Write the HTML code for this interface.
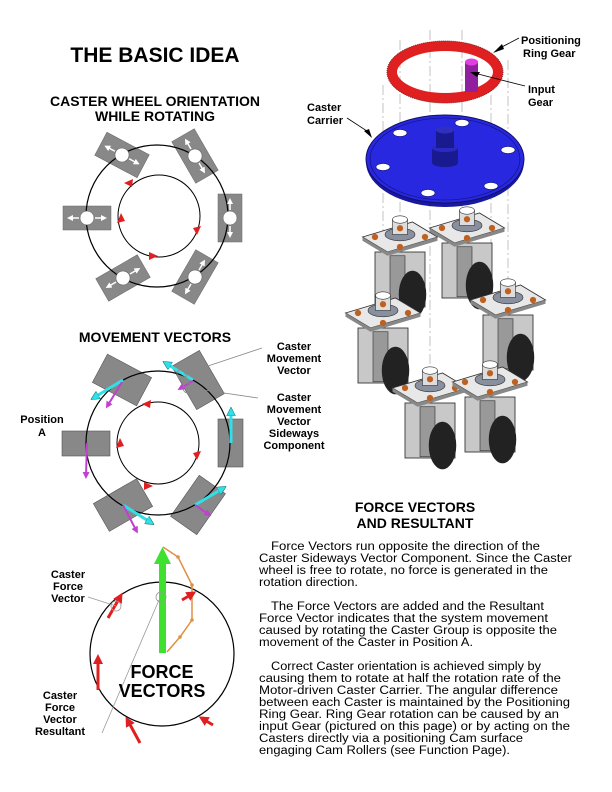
<!DOCTYPE html>
<html><head><meta charset="utf-8"><style>
html,body{margin:0;padding:0;background:#fff;}
svg{display:block;font-family:"Liberation Sans",sans-serif;}
</style></head><body>
<svg width="612" height="792" viewBox="0 0 612 792" xmlns="http://www.w3.org/2000/svg">
<defs>
<marker id="rh" markerWidth="10" markerHeight="10" refX="5" refY="5" orient="auto" markerUnits="userSpaceOnUse"><path d="M0,0 L10,5 L0,10z" fill="#e02020"/></marker>
<marker id="ch" markerWidth="9" markerHeight="9" refX="4" refY="4.5" orient="auto" markerUnits="userSpaceOnUse"><path d="M0,0 L9,4.5 L0,9z" fill="#30e0e8" stroke="#066" stroke-width="0.5"/></marker>
<marker id="mh" markerWidth="7" markerHeight="7" refX="3" refY="3.5" orient="auto" markerUnits="userSpaceOnUse"><path d="M0,0 L7,3.5 L0,7z" fill="#c040d0"/></marker>
<marker id="wh" markerWidth="6" markerHeight="6" refX="3" refY="3" orient="auto" markerUnits="userSpaceOnUse"><path d="M0,0 L6,3 L0,6z" fill="#fff"/></marker>
</defs>

<text x="155" y="62" font-size="21" font-weight="bold" text-anchor="middle">THE BASIC IDEA</text>
<text x="155" y="106" font-size="14" font-weight="bold" text-anchor="middle">CASTER WHEEL ORIENTATION</text>
<text x="155" y="121" font-size="14" font-weight="bold" text-anchor="middle">WHILE ROTATING</text>

<!-- Diagram 1 -->
<g fill="#888" stroke="#666" stroke-width="0.5">
<rect x="-24" y="-13" width="48" height="26" transform="translate(122,155) rotate(28)"/>
<rect x="-24" y="-13" width="48" height="26" transform="translate(195,156) rotate(60)"/>
<rect x="-24" y="-12" width="48" height="24" transform="translate(87,218)"/>
<rect x="-24" y="-12" width="48" height="24" transform="translate(230,218) rotate(90)"/>
<rect x="-24" y="-13" width="48" height="26" transform="translate(123,278) rotate(-30)"/>
<rect x="-24" y="-13" width="48" height="26" transform="translate(195,277) rotate(-60)"/>
</g>
<circle cx="157" cy="216" r="71" fill="none" stroke="#000" stroke-width="1.2"/>
<circle cx="159" cy="216" r="41" fill="none" stroke="#000" stroke-width="1"/>
<g fill="#e02020">
<path d="M124,183 l9,-4 l-1,8z"/><path d="M117,223 l4,-10 l4,8z"/>
<path d="M201,226 l-4,9 l-4,-7z"/><path d="M150,256 l9,-4 l0,8z" transform="rotate(180 154 256)"/>
</g>
<g fill="#fff" stroke="#fff">
<g transform="translate(122,155) rotate(28)"><circle r="7" stroke="#555" stroke-width="0.5"/><line x1="-8" x2="-17" stroke-width="1.5" marker-end="url(#wh)"/><line x1="8" x2="17" stroke-width="1.5" marker-end="url(#wh)"/></g>
<g transform="translate(195,156) rotate(60)"><circle r="7" stroke="#555" stroke-width="0.5"/><line x1="-8" x2="-17" stroke-width="1.5" marker-end="url(#wh)"/><line x1="8" x2="17" stroke-width="1.5" marker-end="url(#wh)"/></g>
<g transform="translate(87,218)"><circle r="7" stroke="#555" stroke-width="0.5"/><line x1="-8" x2="-17" stroke-width="1.5" marker-end="url(#wh)"/><line x1="8" x2="17" stroke-width="1.5" marker-end="url(#wh)"/></g>
<g transform="translate(230,218) rotate(90)"><circle r="7" stroke="#555" stroke-width="0.5"/><line x1="-8" x2="-17" stroke-width="1.5" marker-end="url(#wh)"/><line x1="8" x2="17" stroke-width="1.5" marker-end="url(#wh)"/></g>
<g transform="translate(123,278) rotate(-30)"><circle r="7" stroke="#555" stroke-width="0.5"/><line x1="-8" x2="-17" stroke-width="1.5" marker-end="url(#wh)"/><line x1="8" x2="17" stroke-width="1.5" marker-end="url(#wh)"/></g>
<g transform="translate(195,277) rotate(-60)"><circle r="7" stroke="#555" stroke-width="0.5"/><line x1="-8" x2="-17" stroke-width="1.5" marker-end="url(#wh)"/><line x1="8" x2="17" stroke-width="1.5" marker-end="url(#wh)"/></g>
</g>

<!-- Diagram 2 -->
<text x="155" y="342" font-size="14" font-weight="bold" text-anchor="middle">MOVEMENT VECTORS</text>
<g fill="#888" stroke="#555" stroke-width="0.6">
<rect x="-25" y="-16" width="50" height="32" transform="translate(122,380) rotate(28)"/>
<rect x="-25" y="-16" width="50" height="32" transform="translate(198,380) rotate(60)"/>
<rect x="62" y="431" width="48" height="25"/>
<rect x="218" y="419" width="25" height="48"/>
<rect x="-25" y="-16" width="50" height="32" transform="translate(123,505) rotate(-30)"/>
<rect x="-25" y="-16" width="50" height="32" transform="translate(198,505) rotate(-55)"/>
</g>
<circle cx="158" cy="443" r="72" fill="none" stroke="#000" stroke-width="1.2"/>
<circle cx="158" cy="443" r="41" fill="none" stroke="#000" stroke-width="1"/>
<g fill="#e02020">
<path d="M142,404 l9,-4 l-1,8z"/><path d="M116,448 l4,-10 l4,8z"/>
<path d="M201,451 l-4,9 l-4,-7z"/><path d="M145,486 l9,-4 l0,8z" transform="rotate(180 149 486)"/>
</g>
<g stroke-width="3" fill="none">
<line x1="123" y1="380" x2="95" y2="397" stroke="#30e0e8" marker-end="url(#ch)"/>
<line x1="122" y1="382" x2="108" y2="405" stroke="#c040d0" stroke-width="2" marker-end="url(#mh)"/>
<line x1="193" y1="380" x2="167" y2="364" stroke="#30e0e8" marker-end="url(#ch)"/>
<line x1="193" y1="381" x2="181" y2="388" stroke="#c040d0" stroke-width="2" marker-end="url(#mh)"/>
<line x1="87" y1="443" x2="86" y2="475" stroke="#c040d0" stroke-width="2" marker-end="url(#mh)"/>
<line x1="231" y1="443" x2="231" y2="412" stroke="#30e0e8" marker-end="url(#ch)"/>
<line x1="123" y1="505" x2="150" y2="522" stroke="#30e0e8" marker-end="url(#ch)"/>
<line x1="123" y1="505" x2="136" y2="530" stroke="#c040d0" stroke-width="2" marker-end="url(#mh)"/>
<line x1="195" y1="505" x2="222" y2="489" stroke="#30e0e8" marker-end="url(#ch)"/>
<line x1="195" y1="505" x2="208" y2="514" stroke="#c040d0" stroke-width="2" marker-end="url(#mh)"/>
</g>
<g stroke="#888" stroke-width="0.8" fill="none">
<line x1="262" y1="348" x2="184" y2="374"/><circle cx="182" cy="374" r="5"/>
<line x1="258" y1="398" x2="190" y2="388"/><circle cx="188" cy="388" r="5"/>
</g>
<g font-size="11" font-weight="bold" text-anchor="middle">
<text x="42" y="423">Position</text><text x="42" y="436">A</text>
<text x="294" y="350">Caster</text><text x="294" y="362">Movement</text><text x="294" y="374">Vector</text>
<text x="294" y="401">Caster</text><text x="294" y="413">Movement</text><text x="294" y="425">Vector</text><text x="294" y="437">Sideways</text><text x="294" y="449">Component</text>
</g>

<!-- Diagram 3 -->
<circle cx="162" cy="654" r="72" fill="none" stroke="#000" stroke-width="1.2"/>
<rect x="159" y="562" width="7" height="91" fill="#40e030"/>
<path d="M154,564 L162.5,547 L171,564z" fill="#40e030"/>
<polyline points="163,547 178,557 192,585 192,593 192,620 180,637 167,652" fill="none" stroke="#e09040" stroke-width="1.5"/>
<g fill="#e09040"><circle cx="178" cy="557" r="1.8"/><circle cx="192" cy="585" r="1.8"/><circle cx="192" cy="620" r="1.8"/><circle cx="180" cy="637" r="1.8"/></g>
<g stroke="#e02020" stroke-width="3">
<line x1="108" y1="618" x2="120" y2="597" marker-end="url(#rh)"/>
<line x1="98" y1="690" x2="98" y2="659" marker-end="url(#rh)"/>
<line x1="140" y1="743" x2="128" y2="721" marker-end="url(#rh)"/>
<line x1="213" y1="725" x2="203" y2="719" marker-end="url(#rh)"/>
<line x1="182" y1="600" x2="192" y2="594" marker-end="url(#rh)"/>
</g>
<g stroke="#999" stroke-width="0.8" fill="none">
<line x1="88" y1="597" x2="116" y2="606"/><circle cx="116" cy="606" r="5"/>
<line x1="102" y1="733" x2="159" y2="600"/><circle cx="161" cy="597" r="5"/>
</g>
<g font-size="11" font-weight="bold" text-anchor="middle">
<text x="68" y="578">Caster</text><text x="68" y="590">Force</text><text x="68" y="602">Vector</text>
<text x="60" y="699">Caster</text><text x="60" y="711">Force</text><text x="60" y="723">Vector</text><text x="60" y="735">Resultant</text>
</g>
<text x="162" y="678" font-size="18" font-weight="bold" text-anchor="middle">FORCE</text>
<text x="162" y="697" font-size="18" font-weight="bold" text-anchor="middle">VECTORS</text>

<!-- Right text -->
<text x="415" y="512" font-size="14" font-weight="bold" text-anchor="middle">FORCE VECTORS</text>
<text x="415" y="528" font-size="14" font-weight="bold" text-anchor="middle">AND RESULTANT</text>
<g font-size="11.5" fill="#000" lengthAdjust="spacingAndGlyphs">
<text x="271" y="550" textLength="269" lengthAdjust="spacingAndGlyphs">Force Vectors run opposite the direction of the</text>
<text x="259" y="562" textLength="313" lengthAdjust="spacingAndGlyphs">Caster Sideways Vector Component.  Since the Caster</text>
<text x="259" y="574" textLength="289" lengthAdjust="spacingAndGlyphs">wheel is free to rotate, no force is generated in the</text>
<text x="259" y="586" textLength="99" lengthAdjust="spacingAndGlyphs">rotation direction.</text>
<text x="271" y="610" textLength="273" lengthAdjust="spacingAndGlyphs">The Force Vectors are added and the Resultant</text>
<text x="259" y="622" textLength="289" lengthAdjust="spacingAndGlyphs">Force Vector indicates that the system movement</text>
<text x="259" y="634" textLength="298" lengthAdjust="spacingAndGlyphs">caused by rotating the Caster Group is opposite the</text>
<text x="259" y="646" textLength="214" lengthAdjust="spacingAndGlyphs">movement of the Caster in Position A.</text>
<text x="271" y="670" textLength="270" lengthAdjust="spacingAndGlyphs">Correct Caster orientation is achieved simply by</text>
<text x="259" y="682" textLength="302" lengthAdjust="spacingAndGlyphs">causing them to rotate at half the rotation rate of the</text>
<text x="259" y="694" textLength="299" lengthAdjust="spacingAndGlyphs">Motor-driven Caster Carrier.  The angular difference</text>
<text x="259" y="706" textLength="311" lengthAdjust="spacingAndGlyphs">between each Caster is maintained by the Positioning</text>
<text x="259" y="718" textLength="300" lengthAdjust="spacingAndGlyphs">Ring Gear.  Ring Gear rotation can be caused by an</text>
<text x="259" y="730" textLength="311" lengthAdjust="spacingAndGlyphs">input Gear (pictured on this page) or by acting on the</text>
<text x="259" y="742" textLength="264" lengthAdjust="spacingAndGlyphs">Casters directly via a positioning Cam surface</text>
<text x="259" y="754" textLength="251" lengthAdjust="spacingAndGlyphs">engaging Cam Rollers (see Function Page).</text>
</g>

<!-- 3D assembly -->
<g stroke="#aaa" stroke-width="0.7" stroke-dasharray="10,3,2,3">
<line x1="383" y1="85" x2="383" y2="300"/><line x1="400" y1="40" x2="400" y2="237"/>
<line x1="430" y1="30" x2="430" y2="385"/><line x1="462" y1="30" x2="462" y2="228"/>
<line x1="491" y1="95" x2="491" y2="380"/><line x1="508" y1="60" x2="508" y2="300"/>
</g>
<ellipse cx="445" cy="72" rx="53" ry="26" fill="none" stroke="#e02020" stroke-width="10"/>
<ellipse cx="445" cy="72" rx="58" ry="31" fill="none" stroke="#802020" stroke-width="1" stroke-dasharray="1,1"/>
<rect x="465" y="62" width="13" height="30" fill="#9020a0"/>
<ellipse cx="471.5" cy="62" rx="6.5" ry="3.5" fill="#e040e0"/>
<ellipse cx="445" cy="162" rx="79" ry="45" fill="#1818a0"/>
<ellipse cx="445" cy="159" rx="79" ry="44" fill="#2828e0" stroke="#10106a" stroke-width="1"/>
<ellipse cx="445" cy="159" rx="75" ry="41" fill="none" stroke="#10106a" stroke-width="0.6"/>
<g fill="#fff" stroke="#10106a" stroke-width="0.6">
<ellipse cx="400" cy="133" rx="7" ry="3.5"/><ellipse cx="462" cy="123" rx="7" ry="3.5"/>
<ellipse cx="508" cy="150" rx="7" ry="3.5"/><ellipse cx="383" cy="167" rx="7" ry="3.5"/>
<ellipse cx="491" cy="186" rx="7" ry="3.5"/><ellipse cx="428" cy="193" rx="7" ry="3.5"/>
</g>
<rect x="432" y="148" width="26" height="15" fill="#1a1a90"/><ellipse cx="445" cy="163" rx="13" ry="4" fill="#1a1a90"/><ellipse cx="445" cy="148" rx="13" ry="4" fill="#2a2ac0"/>
<rect x="436" y="130" width="18" height="18" fill="#1a1a90"/><ellipse cx="445" cy="130" rx="9" ry="3.5" fill="#3030c0"/>
<g id="c1" transform="translate(400,237) scale(1.25)">
<rect x="-20" y="12" width="40" height="44" fill="#c8c8c8" stroke="#333" stroke-width="0.7"/>
<rect x="-8" y="15" width="12" height="40" fill="#999" stroke="#333" stroke-width="0.5"/>
<ellipse cx="10" cy="46" rx="11" ry="19" fill="#222"/>
<path d="M-30,0 L10,-12 L30,0 L-10,12z" fill="#e8e8e8" stroke="#333" stroke-width="0.7"/>
<path d="M-30,0 L-10,12 L30,0 L30,3 L-10,15 L-30,3z" fill="#888"/>
<ellipse cx="0" cy="-2" rx="12" ry="5" fill="#8890a0" stroke="#333" stroke-width="0.5"/>
<rect x="-6" y="-14" width="12" height="12" fill="#ddd" stroke="#333" stroke-width="0.5"/>
<ellipse cx="0" cy="-14" rx="6" ry="3" fill="#fff" stroke="#333" stroke-width="0.5"/>
<g fill="#c06020"><circle cx="-20" cy="0" r="2.5"/><circle cx="20" cy="0" r="2.5"/><circle cx="0" cy="-7" r="2.5"/><circle cx="0" cy="8" r="2.5"/></g>
</g>
<use href="#c1" transform="translate(67,-9)"/>
<use href="#c1" transform="translate(108,63)"/>
<use href="#c1" transform="translate(-17,76)"/>
<use href="#c1" transform="translate(30,151)"/>
<use href="#c1" transform="translate(90,145)"/>

<g stroke="#000" stroke-width="0.8" fill="none">
<line x1="519" y1="38" x2="500" y2="48"/><line x1="525" y1="86" x2="478" y2="74"/><line x1="347" y1="118" x2="370" y2="133"/>
</g>
<path d="M493,53 l9,-9 l2,5z"/><path d="M470,72 l10,0 l-3,5z"/><path d="M372,138 l-8,-7 l5,-2z"/>
<g font-size="11" font-weight="bold">
<text x="521" y="44">Positioning</text><text x="523" y="57">Ring Gear</text>
<text x="528" y="93">Input</text><text x="528" y="106">Gear</text>
<text x="307" y="111">Caster</text><text x="307" y="124">Carrier</text>
</g>
</svg>
</body></html>
